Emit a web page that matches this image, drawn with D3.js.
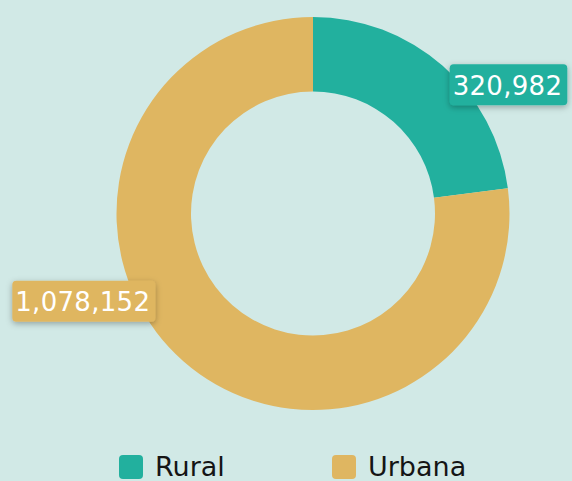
<!DOCTYPE html>
<html>
<head>
<meta charset="utf-8">
<script src="https://cdn.jsdelivr.net/npm/d3@7"></script>
<style>
  html, body { margin: 0; padding: 0; background: #d1e9e6; }
  svg { display: block; }
</style>
</head>
<body>
<div id="chart"></div>
<script>
// data
var categories = ["Rural", "Urbana"];
var values = [320982, 1078152];
var colors = ["#22b09e", "#dfb661"];

var width = 572, height = 481;
var cx = 313, cy = 213.5;
var outerR = 196.5, innerR = 122;

var svg = d3.select("#chart")
  .append("svg")
    .attr("width", width)
    .attr("height", height);

var defs = svg.append("defs");
var f = defs.append("filter").attr("id", "shadow")
  .attr("x", "-20%").attr("y", "-30%").attr("width", "140%").attr("height", "170%");
f.append("feDropShadow")
  .attr("dx", 0).attr("dy", 2).attr("stdDeviation", 3)
  .attr("flood-color", "#000").attr("flood-opacity", 0.3);

var data = categories.map(function(c, i) { return {name: c, value: values[i], color: colors[i]}; });

var pie = d3.pie().sort(null).value(function(d) { return d.value; });
var arc = d3.arc().innerRadius(innerR).outerRadius(outerR);

var g = svg.append("g").attr("transform", "translate(" + cx + "," + cy + ")");

var arcs = pie(data);

g.selectAll("path")
  .data(arcs)
  .enter()
  .append("path")
    .attr("d", arc)
    .attr("fill", d => d.data.color);

// labels: anchored at the outer edge of each slice's mid angle
var fmt = d3.format(",");
var labelOffsets = [
  {dx: 7, dy: 19, align: "left"},
  {dx: -28, dy: -60, align: "right"}
];

var labels = svg.append("g");
arcs.forEach(function(a, i) {
  var mid = (a.startAngle + a.endAngle) / 2;
  var px = cx + outerR * Math.sin(mid);
  var py = cy - outerR * Math.cos(mid);
  var o = labelOffsets[i];
  var lg = labels.append("g");
  var t = lg.append("text")
    .attr("font-family", "DejaVu Sans")
    .attr("font-size", 26)
    .attr("fill", "#fff")
    .attr("letter-spacing", 0.3)
    .attr("dominant-baseline", "central")
    .text(fmt(a.data.value));
  var w = t.node().getComputedTextLength();
  var bw = w + 8, bh = 41;
  var x0 = o.align === "left" ? px + o.dx : px + o.dx - bw;
  var yc = py + o.dy;
  lg.insert("rect", "text")
    .attr("x", x0).attr("y", yc - bh / 2)
    .attr("width", bw).attr("height", bh)
    .attr("rx", 4)
    .attr("fill", a.data.color)
    .attr("filter", "url(#shadow)");
  t.attr("x", x0 + 3).attr("y", yc + 1);
});

// legend
var legendX = [119, 332];
var legend = svg.append("g");
data.forEach(function(d, i) {
  legend.append("rect")
    .attr("x", legendX[i]).attr("y", 455)
    .attr("width", 24).attr("height", 24)
    .attr("rx", 4)
    .attr("fill", d.color);
  legend.append("text")
    .attr("x", legendX[i] + 36).attr("y", 476)
    .attr("font-family", "DejaVu Sans")
    .attr("font-size", 27)
    .attr("fill", "#151515")
    .text(d.name);
});
</script>
</body>
</html>
